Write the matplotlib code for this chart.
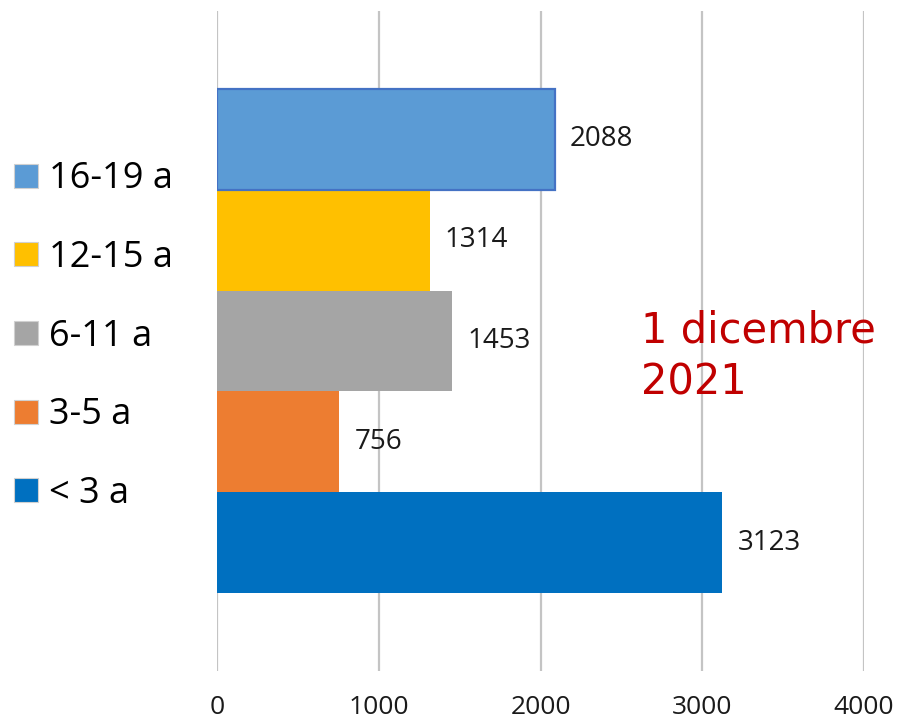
import matplotlib
matplotlib.use('Agg')
import matplotlib.pyplot as plt

# Age groups, bottom to top
groups = ['< 3 a', '3-5 a', '6-11 a', '12-15 a', '16-19 a']
counts = [3123, 756, 1453, 1314, 2088]
colors = ['#0070C0', '#ED7D31', '#A5A5A5', '#FFC000', '#5B9BD5']
x_ticks = [0, 1000, 2000, 3000, 4000]
note = '1 dicembre\n2021'

fig = plt.figure(figsize=(8.98, 7.24), dpi=100)
ax = fig.add_axes([217 / 898, 1 - 671 / 724, (864 - 217) / 898, 660 / 724])

pos = list(range(len(groups)))
bars = ax.barh(pos, counts, height=1.0, color=colors, zorder=3)
# highlighted top bar
bars[-1].set_edgecolor('#4472C4')
bars[-1].set_linewidth(1.6)

ax.bar_label(bars, labels=[str(c) for c in counts], padding=11,
             fontsize=20, family='Open Sans', color='#1a1a1a')

ax.set_xlim(0, 4000)
ax.set_ylim(-1.27, 5.27)
ax.set_xticks(x_ticks)
ax.set_xticklabels([str(t) for t in x_ticks], fontsize=19, family='Open Sans', color='#1a1a1a')
ax.set_yticks([])
ax.tick_params(axis='x', length=0, pad=17)
ax.grid(axis='x', color='#C4C4C4', linewidth=1.6, zorder=0)
for spine in ax.spines.values():
    spine.set_visible(False)

ax.text(2620, 1.85, note, color='#C00000', fontsize=30, family='DejaVu Sans',
        ha='left', va='center', linespacing=1.3, zorder=4)

# Legend, top entry first
handles = list(bars)[::-1]
labels = groups[::-1]
leg = fig.legend(handles, labels, loc='upper left', bbox_to_anchor=(0.0, 1 - 147 / 724),
                 frameon=False, handlelength=0.64, handleheight=0.64,
                 handletextpad=0.33, labelspacing=1.18, borderaxespad=0.0,
                 prop={'family': 'Open Sans', 'size': 26})
for h in leg.legend_handles:
    h.set_edgecolor('#D0D0D0')
    h.set_linewidth(0.8)

fig.savefig('out.png', dpi=100)
plt.close()
